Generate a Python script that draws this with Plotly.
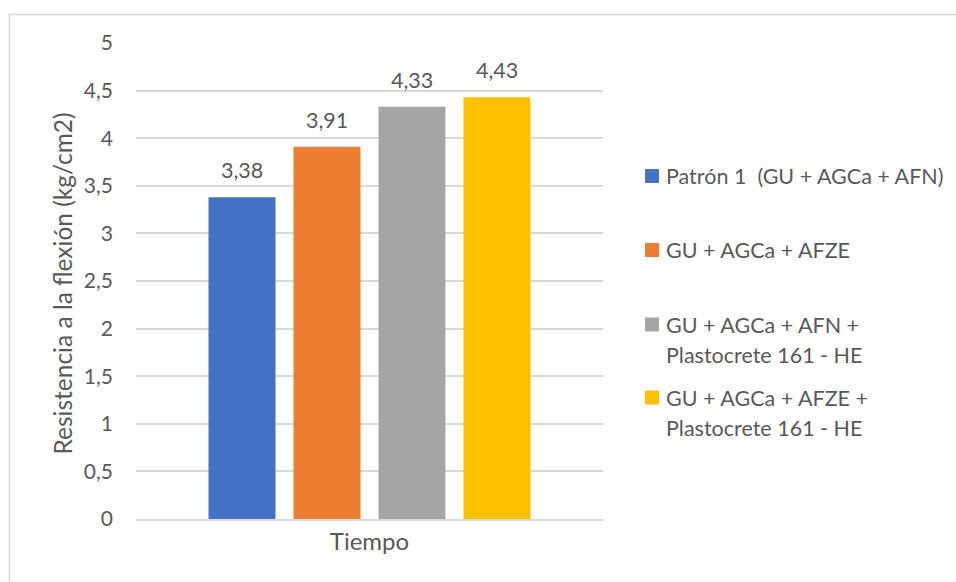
import plotly.graph_objects as go

# Data
category = ["Tiempo"]
series_names = [
    "Patrón 1\u00a0 (GU + AGCa + AFN)",
    "GU + AGCa + AFZE",
    "GU + AGCa + AFN +<br>Plastocrete 161 - HE",
    "GU + AGCa + AFZE +<br>Plastocrete 161 - HE",
]
values = [3.38, 3.91, 4.33, 4.43]
colors = ["#4472C4", "#ED7D31", "#A5A5A5", "#FFC000"]
y_ticks = [0, 0.5, 1, 1.5, 2, 2.5, 3, 3.5, 4, 4.5, 5]
y_ticktext = [str(v).replace(".", ",") if v % 1 else str(int(v)) for v in y_ticks]
y_title = "Resistencia a la flexión (kg/cm2)"

FONT = "Lato"
TXT = "#595959"
GRID = "#D9D9D9"

W, H = 956, 582
ML, MR, MT, MB = 136, 353, 43, 63
PW, PH = W - ML - MR, H - MT - MB

BARGAP = 0.272
BARGROUPGAP = 0.212

fig = go.Figure()
for name, v, c in zip(series_names, values, colors):
    fig.add_trace(go.Bar(x=category, y=[v], name=name, marker=dict(color=c, line=dict(width=0)),
                         showlegend=False))

annotations = []
shapes = []

# value labels above each bar
n = len(values)
slot = (1 - BARGAP) / n
for i, v in enumerate(values):
    xc = -(1 - BARGAP) / 2 + (i + 0.5) * slot
    annotations.append(dict(x=xc, y=v, xref="x", yref="y", text=f"{v:.2f}".replace(".", ","),
                            showarrow=False, yanchor="bottom", yshift=12,
                            font=dict(family=FONT, size=21.5, color=TXT)))

def px_x(p):
    return (p - ML) / PW

def px_y(p):
    return 1 - (p - MT) / PH

# vertical axis title
annotations.append(dict(x=px_x(61.5), y=px_y(284), xref="paper", yref="paper", text=y_title,
                        textangle=-90, showarrow=False, xanchor="center", yanchor="middle",
                        font=dict(family=FONT, size=24.5, color=TXT)))

# legend drawn at the right of the plot
legend_tops = [176, 250, 324.5, 397.5]
LINE = 30
for name, c, ytop in zip(series_names, colors, legend_tops):
    shapes.append(dict(type="rect", xref="paper", yref="paper",
                       x0=px_x(645), x1=px_x(659), y0=px_y(ytop - 7), y1=px_y(ytop + 7),
                       fillcolor=c, line=dict(width=0)))
    for k, line in enumerate(name.split("<br>")):
        annotations.append(dict(x=px_x(664), y=px_y(ytop + k * LINE), xref="paper", yref="paper",
                                text=line, showarrow=False, xanchor="left", yanchor="middle",
                                font=dict(family=FONT, size=21.5, color=TXT)))

# chart border
shapes.append(dict(type="rect", xref="paper", yref="paper",
                   x0=px_x(9.5), y0=px_y(700), x1=px_x(1100), y1=px_y(14.5),
                   line=dict(color=GRID, width=1.5), fillcolor="rgba(0,0,0,0)", layer="below"))

fig.update_layout(
    width=W, height=H,
    margin=dict(l=ML, r=MR, t=MT, b=MB),
    paper_bgcolor="white", plot_bgcolor="white",
    barmode="group", bargap=BARGAP, bargroupgap=BARGROUPGAP,
    font=dict(family=FONT, size=21, color=TXT),
    xaxis=dict(range=[-0.5, 0.5], showgrid=False, showline=True, linecolor=GRID, linewidth=1.5,
               ticks="", ticklabelstandoff=0, tickfont=dict(family=FONT, size=24, color=TXT)),
    yaxis=dict(range=[0, 5], tickvals=y_ticks, ticktext=y_ticktext, showgrid=True,
               gridcolor=GRID, gridwidth=1.5, zeroline=False, showline=False, ticks="",
               ticklabelstandoff=22, tickfont=dict(family=FONT, size=21, color=TXT)),
    annotations=annotations,
    shapes=shapes,
    showlegend=False,
)

fig.write_html("out.html")
